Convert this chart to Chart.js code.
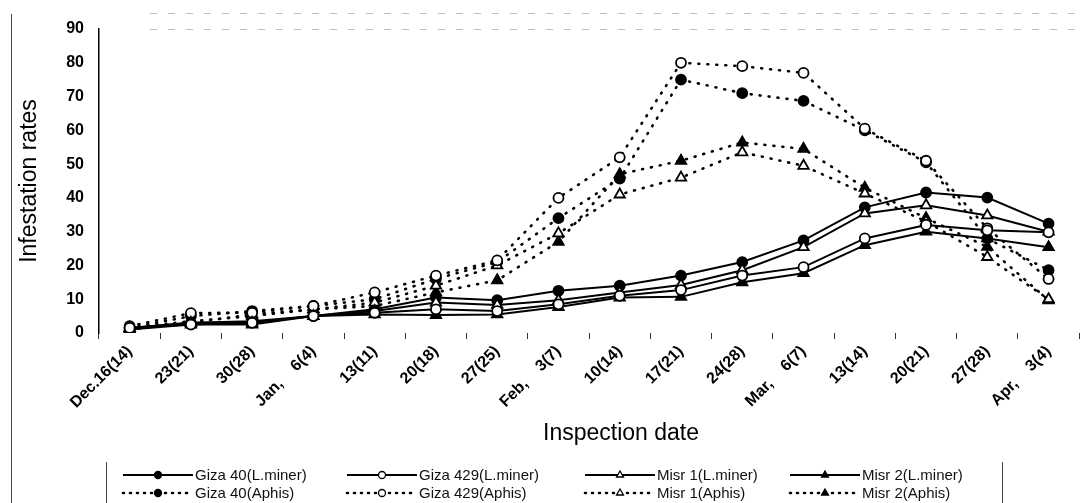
<!DOCTYPE html>
<html>
<head>
<meta charset="utf-8">
<script src="https://cdn.jsdelivr.net/npm/chart.js@4.4.1/dist/chart.umd.min.js"></script>
<style>
  body { margin: 0; background: #fff; overflow: hidden; }
  #wrap { width: 1087px; height: 503px; }
</style>
</head>
<body>
<div id="wrap"><canvas id="myChart" width="1087" height="503"></canvas></div>
<script>
const sp = '\u00a0\u00a0\u00a0\u00a0';
const dates = ['Dec.16(14)', '23(21)', '30(28)', 'Jan,' + sp + '6(4)', '13(11)', '20(18)', '27(25)',
  'Feb,' + sp + '3(7)', '10(14)', '17(21)', '24(28)', 'Mar,' + sp + '6(7)', '13(14)', '20(21)', '27(28)', 'Apr,' + sp + '3(4)'];

const yTicks = [0, 10, 20, 30, 40, 50, 60, 70, 80, 90];

// leaf miner
const giza40Miner  = [1.5, 3, 3.5, 5, 7, 10.5, 9.7, 12.5, 14, 17, 21, 27.4, 37.2, 41.6, 40.1, 32.4];
const giza429Miner = [1.5, 2.5, 3, 5, 6, 7, 6.5, 8.5, 11, 12.7, 17, 19.5, 28, 32, 30.4, 29.8];
const misr1Miner   = [1.5, 3, 3, 5, 6.5, 9, 8.3, 9.7, 12, 14.2, 18.6, 25.4, 35.4, 37.8, 34.8, 30];
const misr2Miner   = [1, 2.5, 2.5, 5, 5.5, 5.3, 5.5, 7.7, 10.5, 10.7, 15, 17.7, 26, 30, 28, 25.4];
// aphis
const giza40Aphis  = [1.5, 5, 6.5, 8, 10, 16, 21, 34, 45.7, 75, 71, 68.7, 60, 50.5, 28, 18.6];
const giza429Aphis = [2, 5.9, 6, 8, 12, 17, 21.5, 40, 52, 80, 79, 77, 60.5, 51, 31, 16];
const misr1Aphis   = [1.5, 3.5, 5, 7, 9, 14, 20, 29.5, 41, 46, 53.5, 49.5, 41.3, 33, 22.5, 10];
const misr2Aphis   = [1, 3, 5.5, 7, 8, 12, 15.6, 27, 47, 51, 56.4, 54.5, 43, 34, 25.5, 9.7];

const seriesNames = ['Giza 40(L.miner)', 'Giza 429(L.miner)', 'Misr 1(L.miner)', 'Misr 2(L.miner)',
  'Giza 40(Aphis)', 'Giza 429(Aphis)', 'Misr 1(Aphis)', 'Misr 2(Aphis)'];
const seriesData = [giza40Miner, giza429Miner, misr1Miner, misr2Miner,
  giza40Aphis, giza429Aphis, misr1Aphis, misr2Aphis];

const ctx = document.getElementById('myChart');

function makeSet(i) {
  const dotted = i >= 4;
  const k = i % 4;
  const tri = k >= 2;
  const filled = (k === 0 || k === 3);
  return {
    label: seriesNames[i],
    data: seriesData[i],
    borderColor: '#000',
    borderWidth: dotted ? 2.6 : 2,
    borderDash: dotted ? [1, 8] : [],
    borderCapStyle: dotted ? 'round' : 'butt',
    tension: 0,
    fill: false,
    // open markers drawn above filled ones where they sit together
    order: filled ? 1 : 0,
    pointStyle: tri ? 'triangle' : 'circle',
    pointRadius: tri ? 6 : 5,
    pointBackgroundColor: filled ? '#000' : '#fff',
    pointBorderColor: '#000',
    pointBorderWidth: 1.8
  };
}

// legend in a box under the axis title + the scan frame lines
const legendBox = {
  id: 'legendBox',
  afterDraw(chart) {
    const c = chart.ctx;
    const colX = [123, 347, 585, 790];
    const rowY = [475, 493];
    c.save();
    // frame bits
    c.strokeStyle = '#444';
    c.lineWidth = 1;
    c.beginPath();
    c.moveTo(11.5, 14); c.lineTo(11.5, 503);
    c.moveTo(106.5, 462); c.lineTo(106.5, 503);
    c.moveTo(1002.5, 462); c.lineTo(1002.5, 503);
    c.stroke();
    c.strokeStyle = 'rgba(0,0,0,0.25)';
    c.setLineDash([7, 11]);
    c.beginPath();
    c.moveTo(150, 13.5); c.lineTo(1080, 13.5);
    c.moveTo(150, 29.5); c.lineTo(1080, 29.5);
    c.stroke();

    chart.data.datasets.forEach((ds, i) => {
      const x = colX[i % 4];
      const y = rowY[Math.floor(i / 4)];
      c.setLineDash(ds.borderDash.length ? [1, 6] : []);
      c.lineCap = ds.borderCapStyle;
      c.lineWidth = ds.borderWidth;
      c.strokeStyle = '#000';
      c.beginPath();
      c.moveTo(x, y); c.lineTo(x + 70, y);
      c.stroke();
      c.setLineDash([]);
      c.fillStyle = ds.pointBackgroundColor;
      c.lineWidth = 1.3;
      Chart.helpers.drawPoint(c, {
        pointStyle: ds.pointStyle, radius: ds.pointStyle === 'triangle' ? 4 : 3.5,
        rotation: 0, borderWidth: 1.3
      }, x + 35, y);
      c.fillStyle = '#111';
      c.font = '15px Arial';
      c.textBaseline = 'middle';
      c.textAlign = 'left';
      c.fillText(ds.label, x + 72, y + 1);
    });
    c.restore();
  }
};

let myChart = new Chart(ctx, {
  type: 'line',
  data: {
    labels: dates,
    datasets: seriesData.map((d, i) => makeSet(i))
  },
  plugins: [legendBox],
  options: {
    responsive: false,
    animation: false,
    layout: { padding: { left: 10, top: 29, right: 0, bottom: 52 } },
    scales: {
      x: {
        offset: true,
        afterFit: (s) => { s.height = 118; },
        grid: { display: true, drawOnChartArea: false, offset: true, tickLength: 6, color: '#333' },
        border: { display: false },
        ticks: {
          autoSkip: false,
          maxRotation: 45,
          minRotation: 45,
          padding: 3,
          color: '#000',
          font: { size: 16, weight: 'bold', family: 'Arial' }
        },
        title: {
          display: true,
          text: '\u00a0'.repeat(10) + 'Inspection date',
          color: '#000',
          font: { size: 23, family: 'Arial' },
          padding: { top: 0, bottom: 4 }
        }
      },
      y: {
        min: 0,
        max: 90,
        afterFit: (s) => { s.width = 89; },
        afterBuildTicks: (s) => { s.ticks = yTicks.map(v => ({ value: v })); },
        grid: { display: false, drawTicks: false },
        border: { display: true, color: '#000', width: 1.5 },
        ticks: {
          padding: 15,
          color: '#000',
          font: { size: 16, weight: 'bold', family: 'Arial' }
        },
        title: {
          display: true,
          text: 'Infestation rates',
          color: '#000',
          font: { size: 23, family: 'Arial' },
          padding: { top: 6, bottom: 0 }
        }
      }
    },
    plugins: {
      legend: { display: false },
      tooltip: { enabled: false }
    }
  }
});
</script>
</body>
</html>
